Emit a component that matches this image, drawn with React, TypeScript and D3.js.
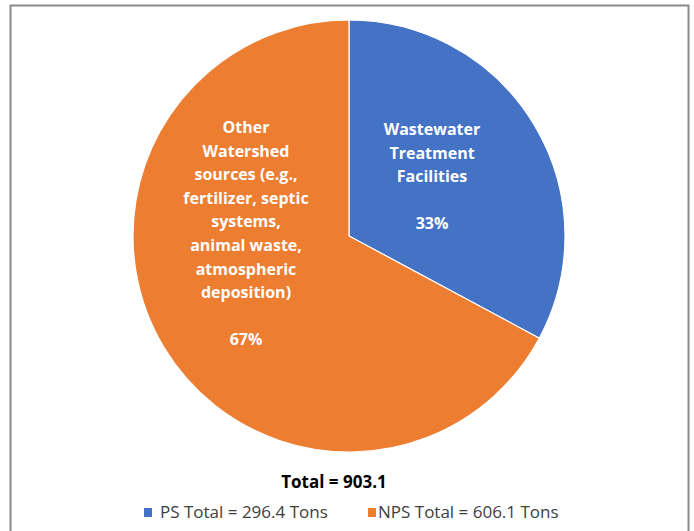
import React from "react";
import * as d3 from "d3";

const categories = ["Wastewater Treatment Facilities", "Other Watershed sources"];
const values = [296.4, 606.1];
const colors = ["#4472C4", "#ED7D31"];
const percentLabels = ["33%", "67%"];
const labelLines = [
  ["Wastewater", "Treatment", "Facilities"],
  ["Other", "Watershed", "sources (e.g.,", "fertilizer, septic", "systems,", "animal waste,", "atmospheric", "deposition)"],
];
const totalLabel = "Total = 903.1";
const legendLabels = ["PS Total = 296.4 Tons", "NPS Total = 606.1 Tons"];

const W = 694;
const H = 531;
const cx = 349;
const cy = 236;
const R = 216;
const FONT = "'Open Sans', sans-serif";

export default function App() {
  const pie = d3.pie<number>().sort(null).value((d) => d)(values);
  const arc = d3.arc<d3.PieArcDatum<number>>().innerRadius(0).outerRadius(R);
  const labelPos = [
    { x: 432, y: 135 },
    { x: 246, y: 133 },
  ];
  const lh = 23.6;
  const legendX = [144, 368];
  const textX = [160, 378];
  return (
    <svg width={W} height={H} style={{ position: "absolute", left: 0, top: 0, background: "#fff" }}>
      <rect x={10.5} y={5.5} width={678} height={540} fill="#fff" stroke="#8a8a8a" strokeWidth={2} />
      <g transform={`translate(${cx},${cy})`}>
        {pie.map((p, i) => (
          <path key={categories[i]} d={arc(p) || ""} fill={colors[i]} stroke="#fff" strokeWidth={1.2} />
        ))}
      </g>
      {labelLines.map((lines, i) => (
        <text key={i} fill="#fff" fontFamily={FONT} fontWeight="bold" fontSize={16} textAnchor="middle">
          {lines.map((l, j) => (
            <tspan key={j} x={labelPos[i].x} y={labelPos[i].y + j * lh}>{l}</tspan>
          ))}
          <tspan x={labelPos[i].x} y={labelPos[i].y + (lines.length + 1) * lh}>{percentLabels[i]}</tspan>
        </text>
      ))}
      <text x={334} y={488} textAnchor="middle" fontFamily={FONT} fontWeight="bold" fontSize={17} fill="#000">
        {totalLabel}
      </text>
      {legendLabels.map((l, i) => (
        <g key={l}>
          <rect x={legendX[i]} y={508} width={8} height={9} fill={colors[i]} />
          <text x={textX[i]} y={518} fontFamily={FONT} fontSize={17} fill="#404040">
            {l}
          </text>
        </g>
      ))}
    </svg>
  );
}
